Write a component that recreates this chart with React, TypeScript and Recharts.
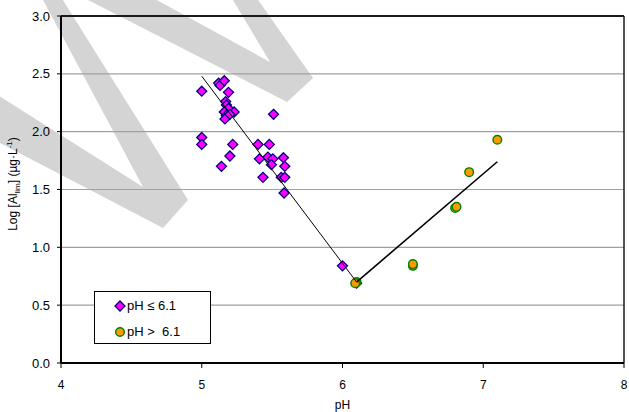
import { ScatterChart, Scatter, XAxis, YAxis, CartesianGrid, ReferenceLine, Legend } from 'recharts';

// ─── Data ─────────────────────────────────────────────────────────────────────

// pH ≤ 6.1 (diamonds)
const LOW_PH = [
  5.0, 5.0, 5.0, 5.12, 5.13, 5.16, 5.19, 5.17, 5.175, 5.19, 5.23, 5.16, 5.175, 5.165, 5.2,
  5.14, 5.2, 5.22, 5.51, 5.4, 5.48, 5.41, 5.47, 5.505, 5.495, 5.58, 5.59, 5.435, 5.565, 5.59,
  5.585, 6.0, 6.1,
];
const LOW_LOG_AL = [
  2.35, 1.95, 1.89, 2.42, 2.4, 2.44, 2.34, 2.26, 2.23, 2.2, 2.17, 2.17, 2.14, 2.11, 2.15,
  1.7, 1.79, 1.89, 2.15, 1.89, 1.89, 1.765, 1.78, 1.765, 1.715, 1.775, 1.7, 1.605, 1.605, 1.605,
  1.47, 0.84, 0.69,
];

// pH > 6.1 (circles)
const HIGH_PH = [6.1, 6.09, 6.5, 6.5, 6.8, 6.81, 6.9, 7.1];
const HIGH_LOG_AL = [0.7, 0.69, 0.84, 0.855, 1.34, 1.35, 1.65, 1.93];

// fitted lines
const FIT_LOW_PH = [5.0, 6.1];
const FIT_LOW_AL = [2.48, 0.7];
const FIT_HIGH_PH = [6.1, 7.1];
const FIT_HIGH_AL = [0.7, 1.74];

const X_TICKS = [4, 5, 6, 7, 8];
const Y_TICKS = [0, 0.5, 1, 1.5, 2, 2.5, 3];

const zip = (xs: number[], ys: number[]) => xs.map((x, i) => ({ x, y: ys[i] }));

// ─── Styling ──────────────────────────────────────────────────────────────────

const FONT = '"Liberation Sans", Arial, sans-serif';
const MAGENTA = '#FF00FF';
const NAVY = '#000080';
const ORANGE = '#FF9900';
const GREEN = '#008000';

// background watermark (decoration only, not data)
const WATERMARK =
  '-50,65 143,187 -4,-88 270,62 209,-40 230,-40 313,78 287,102 51,-19 188,200 163,228 -50,117';

function Diamond(props: { cx?: number; cy?: number }) {
  const { cx = 0, cy = 0 } = props;
  const r = 5;
  return (
    <path
      d={`M${cx},${cy - r}L${cx + r},${cy}L${cx},${cy + r}L${cx - r},${cy}Z`}
      fill={MAGENTA}
      stroke={NAVY}
      strokeWidth={1.3}
    />
  );
}

function Dot(props: { cx?: number; cy?: number }) {
  const { cx = 0, cy = 0 } = props;
  return <circle cx={cx} cy={cy} r={4.3} fill={ORANGE} stroke={GREEN} strokeWidth={1.4} />;
}

const NoShape = () => <g />;

function YTitle() {
  return (
    <text
      transform="translate(17,184) rotate(-90)"
      textAnchor="middle"
      fontFamily={FONT}
      fontSize={12}
      fill="#000"
    >
      <tspan>Log [Al</tspan>
      <tspan fontSize={8} dy={3}>lim</tspan>
      <tspan dy={-3}>] (µg·L</tspan>
      <tspan fontSize={8} dy={-5}>-1</tspan>
      <tspan dy={5}>)</tspan>
    </text>
  );
}

function LegendBox() {
  return (
    <div
      style={{
        position: 'relative',
        width: 117,
        height: 53,
        boxSizing: 'border-box',
        border: '1.5px solid #000',
        background: '#fff',
        fontFamily: FONT,
        fontSize: 13,
        color: '#000',
        whiteSpace: 'pre',
      }}
    >
      <svg width={12} height={12} style={{ position: 'absolute', left: 19, top: 8 }}>
        <Diamond cx={6} cy={6} />
      </svg>
      <span style={{ position: 'absolute', left: 32, top: 6 }}>pH ≤ 6.1</span>
      <svg width={12} height={12} style={{ position: 'absolute', left: 19, top: 34 }}>
        <Dot cx={6} cy={6} />
      </svg>
      <span style={{ position: 'absolute', left: 32, top: 32 }}>pH &gt;  6.1</span>
    </div>
  );
}

export default function App() {
  const xTick = { fontSize: 12, fill: '#000', fontFamily: FONT };
  const yTick = { fontSize: 13, fill: '#000', fontFamily: FONT };
  return (
    <div style={{ position: 'absolute', left: 0, top: 0, width: 629, height: 412, background: '#fff' }}>
      <svg width={629} height={412} style={{ position: 'absolute', left: 0, top: 0 }}>
        <polygon points={WATERMARK} fill="#D4D4D4" />
      </svg>
      <div style={{ position: 'absolute', left: 0, top: 0 }}>
        <ScatterChart width={629} height={412} margin={{ top: 16, right: 5, bottom: 19, left: 0 }}>
          <CartesianGrid vertical={false} stroke="#A0A0A0" strokeWidth={1.2} />
          <XAxis
            type="number"
            dataKey="x"
            domain={[4, 8]}
            ticks={X_TICKS}
            allowDataOverflow
            height={30}
            tickSize={5}
            tickMargin={12}
            tick={xTick}
            axisLine={{ stroke: '#000', strokeWidth: 2 }}
            tickLine={{ stroke: '#000' }}
            label={{ value: 'pH', position: 'bottom', offset: 7, fontSize: 12, fill: '#000', fontFamily: FONT }}
          />
          <YAxis
            type="number"
            dataKey="y"
            domain={[0, 3]}
            ticks={Y_TICKS}
            allowDataOverflow
            width={61}
            tickSize={4}
            tickMargin={7}
            tick={yTick}
            tickFormatter={(v: number) => v.toFixed(1)}
            axisLine={{ stroke: '#000', strokeWidth: 2 }}
            tickLine={{ stroke: '#000' }}
            label={<YTitle />}
          />
          <ReferenceLine y={3} stroke="#1a1a1a" strokeWidth={2} />
          <ReferenceLine x={8} stroke="#1a1a1a" strokeWidth={1.5} />
          <Legend
            layout="vertical"
            align="center"
            verticalAlign="middle"
            content={() => <LegendBox />}
            wrapperStyle={{ left: 94, top: 291, width: 117, height: 53 }}
          />
          <Scatter name="pH ≤ 6.1" data={zip(LOW_PH, LOW_LOG_AL)} shape={<Diamond />} isAnimationActive={false} />
          <Scatter name="pH > 6.1" data={zip(HIGH_PH, HIGH_LOG_AL)} shape={<Dot />} isAnimationActive={false} />
          <Scatter
            data={zip(FIT_LOW_PH, FIT_LOW_AL)}
            line={{ stroke: '#000', strokeWidth: 1 }}
            shape={NoShape}
            legendType="none"
            isAnimationActive={false}
          />
          <Scatter
            data={zip(FIT_HIGH_PH, FIT_HIGH_AL)}
            line={{ stroke: '#000', strokeWidth: 1.6 }}
            shape={NoShape}
            legendType="none"
            isAnimationActive={false}
          />
        </ScatterChart>
      </div>
    </div>
  );
}
